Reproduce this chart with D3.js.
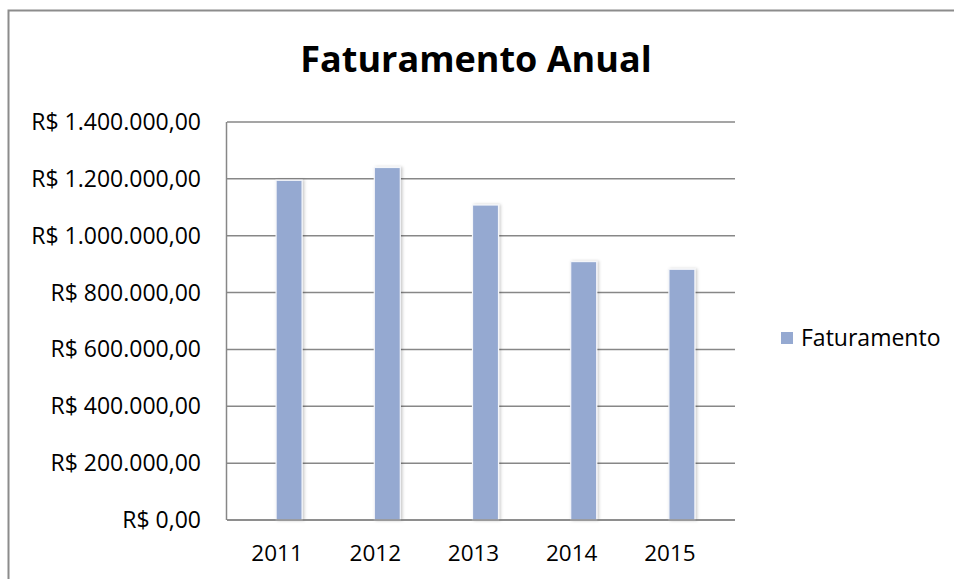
<!DOCTYPE html>
<html><head><meta charset="utf-8">
<script src="https://cdn.jsdelivr.net/npm/d3@7/dist/d3.min.js"></script>
<style>body{margin:0;background:#fff}svg{display:block}</style>
</head><body>
<svg id="c" width="954" height="579"></svg>
<script>
const categories = ["2011","2012","2013","2014","2015"];
const faturamento = [1195000, 1240000, 1108000, 909000, 882000];
const yTicks = [0,200000,400000,600000,800000,1000000,1200000,1400000];
const title = "Faturamento Anual";
const seriesName = "Faturamento";

(function(){
const svg = d3.select("#c");
const font = "'Open Sans', sans-serif";
const fmt = v => "R$ " + d3.format(",.2f")(v).replace(/,/g,"#").replace(/\./g,",").replace(/#/g,".");

// outer frame
svg.append("path").attr("d","M8.5,579 L8.5,10.5 L954,10.5").attr("fill","none").attr("stroke","#8c8c8c").attr("stroke-width",2);

const pLeft=227, pRight=735, pTop=122, pBottom=520;
const y = d3.scaleLinear().domain([0,1400000]).range([pBottom, pTop]);
const x = d3.scaleBand().domain(categories).range([228, 719]);

// gridlines
svg.append("g").selectAll("line").data(yTicks).join("line")
  .attr("x1",pLeft).attr("x2",pRight).attr("y1",d=>y(d)).attr("y2",d=>y(d))
  .attr("stroke","#878787").attr("stroke-width",1.5);

// y labels
svg.append("g").selectAll("text").data(yTicks).join("text")
  .attr("x",201).attr("y",d=>y(d)+8).attr("text-anchor","end")
  .attr("font-family",font).attr("font-size",23).attr("fill","#000").text(fmt);

// defs shadow
const defs = svg.append("defs");
const f = defs.append("filter").attr("id","sh").attr("x","-30%").attr("y","-10%").attr("width","160%").attr("height","120%");
f.append("feDropShadow").attr("dx",1.5).attr("dy",0).attr("stdDeviation",1.5).attr("flood-color","#000").attr("flood-opacity",0.22);

// bars
svg.append("g").selectAll("rect").data(categories).join("rect")
  .attr("x",d=>x(d)+x.bandwidth()/2 - 1)
  .attr("width",26)
  .attr("y",(d,i)=>y(faturamento[i]))
  .attr("height",(d,i)=>pBottom-y(faturamento[i]))
  .attr("fill","#95a9d1").attr("stroke","#f4f6fa").attr("stroke-width",1.2)
  .attr("filter","url(#sh)");

// axes lines
svg.append("line").attr("x1",pLeft-0.5).attr("x2",pLeft-0.5).attr("y1",pTop).attr("y2",pBottom).attr("stroke","#878787").attr("stroke-width",1.5);
svg.append("line").attr("x1",pLeft).attr("x2",pRight).attr("y1",pBottom).attr("y2",pBottom).attr("stroke","#878787").attr("stroke-width",1.5);

// x labels
svg.append("g").selectAll("text").data(categories).join("text")
  .attr("x",d=>x(d)+x.bandwidth()/2).attr("y",561).attr("text-anchor","middle")
  .attr("font-family",font).attr("font-size",22.5).attr("fill","#000").text(d=>d);

// title
svg.append("text").attr("x",476).attr("y",72).attr("text-anchor","middle")
  .attr("font-family",font).attr("font-weight","bold").attr("font-size",36).attr("fill","#000").text(title);

// legend
svg.append("rect").attr("x",781).attr("y",332).attr("width",12).attr("height",12).attr("fill","#95a9d1");
svg.append("text").attr("x",801).attr("y",346).attr("font-family",font).attr("font-size",23).attr("fill","#000").text(seriesName);
})();
</script>
</body></html>
